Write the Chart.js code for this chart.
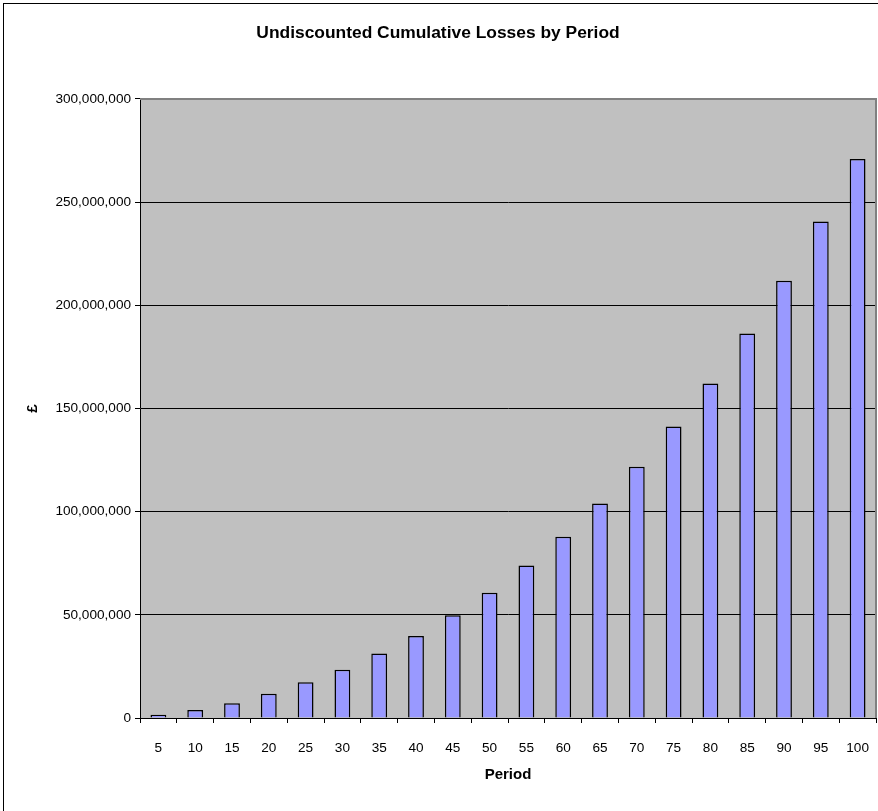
<!DOCTYPE html>
<html>
<head>
<meta charset="utf-8">
<title>Undiscounted Cumulative Losses by Period</title>
<script src="https://cdn.jsdelivr.net/npm/chart.js@4/dist/chart.umd.min.js"></script>
<style>
  html, body { margin: 0; padding: 0; background: #ffffff; }
  #grafico { display: block; }
</style>
</head>
<body>
<canvas id="grafico" width="878" height="811"></canvas>
<script>
const periodos = ["5", "10", "15", "20", "25", "30", "35", "40", "45", "50",
  "55", "60", "65", "70", "75", "80", "85", "90", "95", "100"];

// perdas acumuladas em milhoes de libras
const perdasMilhoes = [1.6, 3.9, 7.1, 11.8, 17.3, 23.4, 31.2, 39.8, 49.8, 60.7,
  73.9, 87.9, 104.0, 121.8, 141.3, 162.1, 186.4, 211.9, 240.6, 270.9];

const eixoYMax = 300000000;
const eixoYPasso = 50000000;

const perdas = perdasMilhoes.map((v) => v * 1000000);

const fundoPlot = {
  id: "fundoPlot",
  beforeDraw(chart) {
    const { ctx, chartArea } = chart;
    ctx.save();
    ctx.fillStyle = "#ffffff";
    ctx.fillRect(0, 0, chart.width, chart.height);
    ctx.fillStyle = "#c0c0c0";
    ctx.fillRect(chartArea.left, chartArea.top,
      chartArea.right - chartArea.left, chartArea.bottom - chartArea.top);
    // moldura externa
    ctx.strokeStyle = "#000000";
    ctx.lineWidth = 1;
    ctx.strokeRect(3.5, 3.5, chart.width + 10, chart.height + 10);
    ctx.restore();
  },
  afterDraw(chart) {
    const { ctx, chartArea } = chart;
    ctx.save();
    ctx.strokeStyle = "#808080";
    ctx.lineWidth = 2;
    ctx.beginPath();
    ctx.moveTo(chartArea.left, chartArea.top);
    ctx.lineTo(chartArea.right, chartArea.top);
    ctx.lineTo(chartArea.right, chartArea.bottom);
    ctx.stroke();
    ctx.restore();
  },
};

Chart.defaults.font.family = '"Liberation Sans", Arial, sans-serif';
Chart.defaults.font.size = 13.6;
Chart.defaults.color = "#000000";

new Chart(document.getElementById("grafico"), {
  type: "bar",
  data: {
    labels: periodos,
    datasets: [
      {
        label: "£",
        data: perdas,
        backgroundColor: "#9999ff",
        borderColor: "#000000",
        borderWidth: 1.5,
        barPercentage: 0.43,
        categoryPercentage: 1,
      },
    ],
  },
  options: {
    responsive: false,
    animation: false,
    layout: {
      padding: { left: 0, right: 2, top: 0, bottom: 0 },
    },
    plugins: {
      legend: { display: false },
      tooltip: { enabled: false },
      title: {
        display: true,
        text: "Undiscounted Cumulative Losses by Period",
        font: { size: 17.4, weight: "bold" },
        color: "#000000",
        padding: { top: 23, bottom: 55.1 },
      },
    },
    scales: {
      x: {
        offset: true,
        grid: {
          offset: true,
          drawOnChartArea: false,
          color: "#000000",
          tickLength: 5,
        },
        border: { color: "#000000", width: 1 },
        ticks: { padding: 17, maxRotation: 0, autoSkip: false },
        title: {
          display: true,
          text: "Period",
          font: { size: 15, weight: "bold" },
          padding: { top: 0, bottom: 27 },
        },
        afterFit(scale) {
          scale.height = 93;
          scale.paddingLeft = 0;
          scale.paddingRight = 0;
        },
      },
      y: {
        min: 0,
        max: eixoYMax,
        grid: {
          color: "#000000",
          tickLength: 5,
        },
        border: { color: "#000000", width: 1 },
        ticks: {
          stepSize: eixoYPasso,
          padding: 4,
          callback: (valor) => valor.toLocaleString("en-US"),
        },
        title: {
          display: true,
          text: "£",
          font: { size: 15, weight: "bold" },
          padding: { top: 24, bottom: 0 },
        },
        afterFit(scale) {
          scale.width = 140;
        },
      },
    },
  },
  plugins: [fundoPlot],
});
</script>
</body>
</html>
